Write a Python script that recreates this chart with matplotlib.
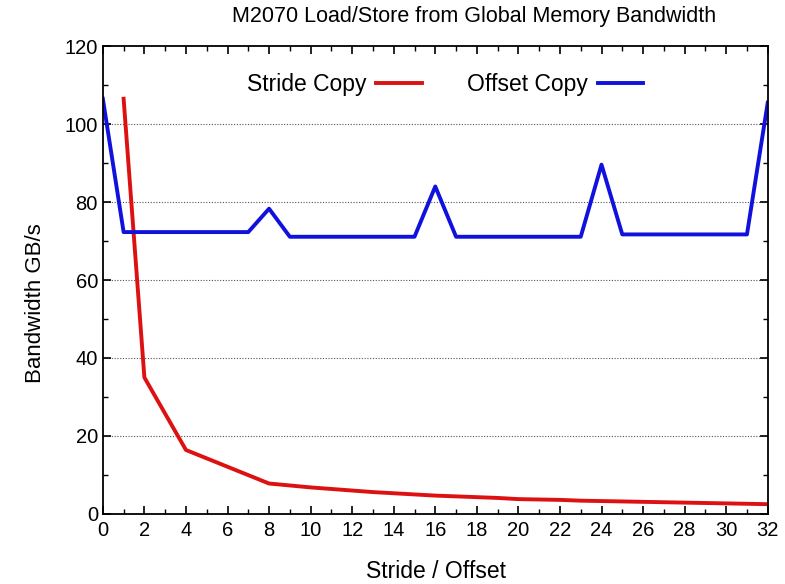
import matplotlib
matplotlib.use("Agg")
import matplotlib.pyplot as plt
from matplotlib.ticker import MultipleLocator

plt.rcParams['font.family'] = ['Liberation Sans', 'DejaVu Sans']

# Offset Copy: offsets 0..32
offset_x = list(range(0, 33))
offset_bw = [106.5, 72.3, 72.3, 72.3, 72.3, 72.3, 72.3, 72.3, 78.3,
             71.1, 71.1, 71.1, 71.1, 71.1, 71.1, 71.1, 84.0,
             71.1, 71.1, 71.1, 71.1, 71.1, 71.1, 71.1, 89.6,
             71.7, 71.7, 71.7, 71.7, 71.7, 71.7, 71.7, 105.5]

# Stride Copy
stride_x = [1, 2, 4, 8, 9, 10, 11, 12, 13, 14, 15, 16, 17, 18, 19, 20, 21,
            22, 23, 24, 25, 26, 27, 28, 29, 30, 31, 32]
stride_bw = [106.5, 35.0, 16.4, 7.8, 7.3, 6.8, 6.4, 6.0, 5.6, 5.3, 5.0, 4.7,
             4.5, 4.3, 4.1, 3.8, 3.7, 3.6, 3.4, 3.3, 3.2, 3.1, 3.0, 2.9,
             2.8, 2.7, 2.6, 2.5]

fig = plt.figure(figsize=(7.85, 5.84), dpi=100)
ax = fig.add_axes([0.131, 0.12, 0.847, 0.801])

ax.plot(stride_x, stride_bw, color='#dd1111', linewidth=2.8, label='Stride Copy')
ax.plot(offset_x, offset_bw, color='#1111dd', linewidth=2.8, label='Offset Copy')

ax.set_xlim(0, 32)
ax.set_ylim(0, 120)
ax.xaxis.set_major_locator(MultipleLocator(2))
ax.xaxis.set_minor_locator(MultipleLocator(1))
ax.yaxis.set_major_locator(MultipleLocator(20))
ax.yaxis.set_minor_locator(MultipleLocator(10))
ax.tick_params(which='both', direction='in', top=True, right=True, labelsize=14.5)
ax.tick_params(which='major', length=6, width=1.2)
ax.tick_params(which='minor', length=3.5, width=1.0)
ax.tick_params(axis='x', pad=5)

for y in [20, 40, 60, 80, 100]:
    ax.axhline(y, color='#555555', linestyle=(0, (1, 1.5)), linewidth=0.8, zorder=0)

for s in ax.spines.values():
    s.set_linewidth(1.3)

fig.text(0.555, 0.022, 'Stride / Offset', fontsize=16.5, ha='center', va='center')
ax.set_ylabel('Bandwidth GB/s', fontsize=16)
ax.yaxis.set_label_coords(-0.085, 0.45)
fig.text(0.604, 0.972, 'M2070 Load/Store from Global Memory Bandwidth',
         fontsize=15.5, ha='center', va='center')

ax.legend(loc='center', bbox_to_anchor=(0.515, 0.919), ncol=2, markerfirst=False,
          frameon=False, fontsize=16.5, handlelength=2.0, columnspacing=2.0,
          handletextpad=0.4)

fig.savefig('out.png', dpi=100)
